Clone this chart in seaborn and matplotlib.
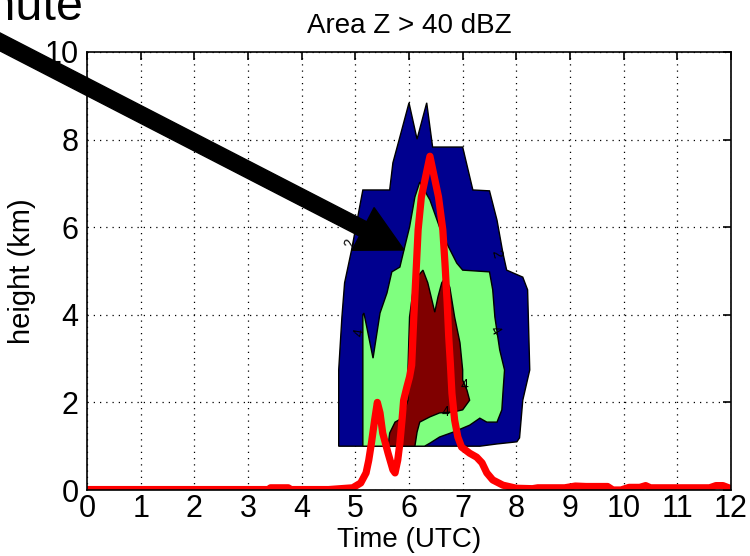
import numpy as np
import pandas as pd
import seaborn as sns
import matplotlib
matplotlib.use("Agg")
import matplotlib.pyplot as plt
from matplotlib.patches import FancyArrow
from matplotlib.transforms import IdentityTransform

# ---------------- data ----------------
title = "Area Z > 40 dBZ"
xlabel = "Time (UTC)"
ylabel = "height (km)"
xticks = list(range(0, 13))
yticks = [0, 2, 4, 6, 8, 10]

# red line: area time series (time in UTC hours, value on the height axis scale)
line_time = [0.0, 1.0, 2.0, 3.0, 3.38, 3.42, 3.75, 3.8, 4.5, 4.95, 5.1, 5.2, 5.25, 5.3, 5.36,
             5.41, 5.46, 5.51, 5.61, 5.70, 5.74, 5.79, 5.83, 5.87, 5.90, 5.96, 6.01, 6.05,
             6.09, 6.14, 6.17, 6.23, 6.39, 6.55, 6.63, 6.67, 6.71, 6.74, 6.77, 6.80, 6.85,
             6.91, 6.98, 7.13, 7.26, 7.36, 7.45, 7.56, 7.75, 8.0, 8.3, 8.4, 8.9, 9.1, 9.3,
             9.45, 9.7, 9.8, 9.95, 10.1, 10.3, 10.41, 10.5, 11.0, 11.1, 11.6, 11.72, 11.85,
             12.0]
line_value = [0.01, 0.01, 0.01, 0.01, 0.01, 0.05, 0.05, 0.01, 0.01, 0.05, 0.16, 0.39, 0.68,
              1.07, 1.60, 2.0, 1.76, 1.30, 0.84, 0.46, 0.39, 0.68, 1.07, 1.60, 2.05, 2.35,
              2.58, 2.85, 3.95, 5.18, 5.94, 6.69, 7.62, 6.69, 5.94, 5.18, 4.3, 3.5, 2.9,
              2.21, 1.60, 1.21, 0.98, 0.84, 0.75, 0.62, 0.39, 0.23, 0.11, 0.04, 0.03, 0.05,
              0.05, 0.09, 0.08, 0.08, 0.08, 0.0, 0.0, 0.06, 0.06, 0.10, 0.05, 0.05, 0.05,
              0.05, 0.10, 0.10, 0.03]

# contour regions (time, height) outlines
outer_t = [4.69, 4.69, 4.75, 4.80, 4.93, 5.14, 5.64, 5.70, 5.83, 6.00, 6.15, 6.33, 6.44,
           7.00, 7.19, 7.50, 7.64, 7.75, 7.82, 8.12, 8.21, 8.25, 8.12, 8.06, 8.01, 7.63, 7.32]
outer_h = [1.00, 2.74, 3.95, 4.73, 5.48, 6.85, 6.85, 7.47, 8.06, 8.84, 8.01, 8.84, 7.83,
           7.83, 6.85, 6.83, 6.16, 5.41, 5.02, 4.86, 4.57, 2.74, 2.05, 1.19, 1.10, 1.05, 1.00]

middle_t = [5.14, 5.14, 5.16, 5.33, 5.46, 5.59, 5.68, 5.83, 5.92, 6.01, 6.11, 6.20, 6.39,
            6.57, 6.70, 6.89, 7.00, 7.50, 7.56, 7.60, 7.69, 7.78, 7.75, 7.73, 7.64, 7.45,
            7.32, 7.13, 6.82, 6.57, 6.39, 6.29]
middle_h = [1.00, 4.00, 4.04, 3.01, 4.04, 4.50, 4.98, 5.09, 5.55, 6.00, 6.69, 7.03, 6.62,
            6.00, 5.64, 5.18, 5.02, 4.98, 4.57, 3.95, 3.20, 2.74, 2.21, 1.83, 1.55, 1.55,
            1.64, 1.48, 1.32, 1.21, 1.07, 1.00]

inner_t = [5.61, 5.64, 5.74, 5.87, 5.98, 5.98, 6.01, 6.07, 6.15, 6.26, 6.35, 6.44, 6.48,
           6.54, 6.61, 6.67, 6.76, 6.85, 6.95, 7.00, 7.00, 7.08, 7.13, 7.00, 6.82, 6.57,
           6.39, 6.20, 6.15, 6.11]
inner_h = [1.00, 1.30, 1.55, 1.64, 2.05, 2.74, 3.95, 4.50, 4.86, 5.02, 4.73, 4.27, 4.06,
           4.41, 4.73, 4.84, 4.63, 3.95, 3.36, 2.74, 2.51, 2.28, 2.05, 1.83, 1.78, 1.76,
           1.67, 1.55, 1.32, 1.00]

# contour labels
clabel_text = ["2", "4", "4", "4", "4", "2"]
clabel_t = [4.90, 5.08, 7.60, 7.03, 6.68, 7.62]
clabel_h = [5.65, 3.60, 3.65, 2.40, 1.78, 5.40]
clabel_rot = [80, 80, -60, 0, 0, -75]

# annotation arrow (pixels, from top-left of the image)
arrow_start_px = (-60.0, 11.0)
arrow_tip_px = (404.0, 250.0)
note_text = "minute"

# ---------------- plot ----------------
sns.set_style("white")
plt.rcParams["font.family"] = ["Liberation Sans", "DejaVu Sans"]
plt.rcParams["text.color"] = "black"
plt.rcParams["axes.labelcolor"] = "black"

W, H = 750, 556
fig = plt.figure(figsize=(W / 100, H / 100), dpi=100)
ax = fig.add_axes([87 / W, 1 - 490 / H, (731 - 87) / W, (490 - 52) / H])

ax.fill(outer_t, outer_h, facecolor="#00008F", edgecolor="black", linewidth=1.0, zorder=2)
ax.fill(middle_t, middle_h, facecolor="#7FFF7F", edgecolor="black", linewidth=1.0, zorder=3)
ax.fill(inner_t, inner_h, facecolor="#800000", edgecolor="black", linewidth=1.0, zorder=4)

for s, t, h, r in zip(clabel_text, clabel_t, clabel_h, clabel_rot):
    ax.text(t, h, s, fontsize=10, rotation=r, ha="center", va="center", color="black",
            zorder=5)

df = pd.DataFrame({"time": line_time, "value": line_value})
sns.lineplot(data=df, x="time", y="value", color="#FF0000", linewidth=5.2, ax=ax,
             zorder=6, sort=False)

ax.set_xlim(0, 12)
ax.set_ylim(0, 10)
ax.set_xticks(xticks)
ax.set_yticks(yticks)
ax.set_xticklabels([str(v) for v in xticks])
ax.set_yticklabels([str(v) for v in yticks])
ax.grid(True, color="black", linestyle=(0, (1, 4)), linewidth=0.9)
ax.set_axisbelow(True)
for sp in ax.spines.values():
    sp.set_color("black")
    sp.set_linewidth(1.2)
    sp.set_zorder(10)
ax.tick_params(direction="in", length=6, width=1.2, top=True, right=True,
               labelsize=22, colors="black")
ax.tick_params(axis="x", pad=3)
ax.tick_params(axis="y", pad=6)
ax.set_xlabel(xlabel, fontsize=20, labelpad=2, color="black")
ax.set_ylabel(ylabel, fontsize=21, labelpad=6, color="black")
ax.set_title(title, fontsize=20, pad=14, color="black")

# big arrow in pixel space
sx, sy = arrow_start_px
tx, ty = arrow_tip_px
arr = FancyArrow(sx, H - sy, tx - sx, -(ty - sy), width=16, head_width=48, head_length=46,
                 length_includes_head=True, color="black", transform=IdentityTransform(),
                 zorder=20)
fig.add_artist(arr)
fig.text(84, H - 20, note_text, fontsize=35, ha="right", va="baseline",
         transform=IdentityTransform(), color="black")

fig.savefig("out.png", dpi=100)
